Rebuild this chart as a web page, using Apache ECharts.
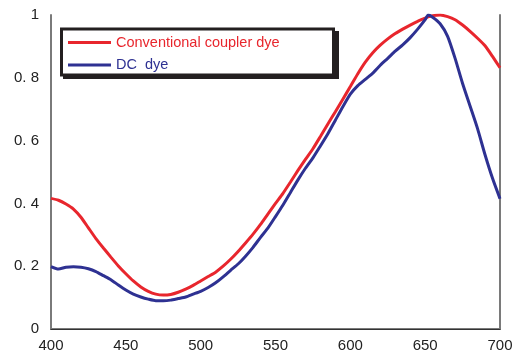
<!DOCTYPE html>
<html><head><meta charset="utf-8">
<script src="https://cdn.jsdelivr.net/npm/echarts@6/dist/echarts.min.js"></script>
<style>html,body{margin:0;padding:0;background:#fff}#c{width:522px;height:360px}</style>
</head><body><div id="c"></div>
<script>
var wavelengths = [400,405,410,415,420,425,430,435,440,445,450,455,460,465,470,475,480,485,490,495,500,505,510,515,520,525,530,535,540,545,550,555,560,565,570,575,580,585,590,595,600,605,610,615,620,625,630,635,640,645,650,652,655,660,665,670,675,680,685,690,695,700];
var conventional = [0.416,0.41,0.398,0.382,0.356,0.322,0.288,0.258,0.229,0.201,0.176,0.153,0.134,0.12,0.111,0.108,0.11,0.117,0.127,0.139,0.153,0.167,0.181,0.2,0.222,0.247,0.274,0.302,0.333,0.367,0.4,0.432,0.468,0.505,0.54,0.574,0.613,0.653,0.692,0.732,0.772,0.813,0.85,0.88,0.904,0.924,0.941,0.955,0.968,0.98,0.99,0.994,0.998,1.0,0.995,0.985,0.968,0.948,0.926,0.902,0.868,0.832];
var dcDye = [0.199,0.191,0.197,0.198,0.197,0.192,0.183,0.17,0.157,0.14,0.124,0.111,0.102,0.095,0.09,0.09,0.092,0.097,0.102,0.111,0.12,0.132,0.147,0.166,0.187,0.207,0.232,0.26,0.292,0.322,0.358,0.395,0.435,0.475,0.512,0.545,0.583,0.622,0.665,0.708,0.748,0.775,0.795,0.815,0.84,0.862,0.885,0.905,0.928,0.955,0.985,1.0,0.993,0.972,0.932,0.862,0.782,0.71,0.638,0.555,0.48,0.415];
var seriesNames = ['Conventional coupler dye', 'DC  dye'];
var xTicks = [400,450,500,550,600,650,700];
var yTicks = [0,0.2,0.4,0.6,0.8,1];

function pairs(xs, ys){ return xs.map(function(x,i){ return [x, ys[i]]; }); }
var RED = '#e8262d', BLUE = '#2e3192';
var chart = echarts.init(document.getElementById('c'));
var font = 'Liberation Sans, Arial, sans-serif';
chart.setOption({
  animation: false,
  backgroundColor: '#fff',
  grid: { left: 51, right: 22, top: 15, bottom: 31 },
  graphic: [
    { type: 'rect', z: 10, shape: { x: 63, y: 31, width: 276, height: 48 }, style: { fill: '#231f20' } },
    { type: 'rect', z: 11, shape: { x: 61.5, y: 29, width: 272, height: 46 }, style: { fill: '#fff', stroke: '#231f20', lineWidth: 3 } }
  ],
  xAxis: [{
    type: 'value', min: xTicks[0], max: xTicks[xTicks.length-1], interval: 50, position: 'bottom',
    axisLine: { lineStyle: { color: '#7a7a7a', width: 2 } },
    axisTick: { show: false }, splitLine: { show: false },
    axisLabel: { color: '#222', fontSize: 15, fontFamily: font, margin: 9 }
  },{
    type: 'value', min: xTicks[0], max: xTicks[xTicks.length-1], interval: 50, position: 'top',
    axisLine: { show: true, lineStyle: { color: '#333', width: 1 } },
    axisTick: { show: false }, splitLine: { show: false }, axisLabel: { show: false }
  }],
  yAxis: [{
    type: 'value', min: yTicks[0], max: yTicks[yTicks.length-1], interval: 0.2, position: 'left',
    axisLine: { show: true, lineStyle: { color: '#7a7a7a', width: 2 } },
    axisTick: { show: false }, splitLine: { show: false },
    axisLabel: { color: '#222', fontSize: 15, fontFamily: font, margin: 12,
      formatter: function(v){ var s = String(Math.round(v*10)/10); return s.replace('.', '. '); } }
  },{
    type: 'value', min: yTicks[0], max: yTicks[yTicks.length-1], interval: 0.2, position: 'right',
    axisLine: { show: true, lineStyle: { color: '#7a7a7a', width: 2 } },
    axisTick: { show: false }, splitLine: { show: false }, axisLabel: { show: false }
  }],
  legend: {
    orient: 'vertical', left: 68, top: 35, z: 20,
    padding: 0, itemGap: 7.5,
    itemWidth: 43, itemHeight: 3, icon: 'rect',
    textStyle: { fontSize: 14.5, fontFamily: font },
    data: [
      { name: seriesNames[0], textStyle: { color: RED } },
      { name: seriesNames[1], textStyle: { color: BLUE } }
    ]
  },
  series: [{
    name: seriesNames[0], type: 'line', smooth: 0.2, symbol: 'none',
    data: pairs(wavelengths, conventional),
    lineStyle: { color: RED, width: 3 }, itemStyle: { color: RED }
  },{
    name: seriesNames[1], type: 'line', smooth: 0.2, symbol: 'none',
    data: pairs(wavelengths, dcDye),
    lineStyle: { color: BLUE, width: 3 }, itemStyle: { color: BLUE }
  }]
});
</script></body></html>
